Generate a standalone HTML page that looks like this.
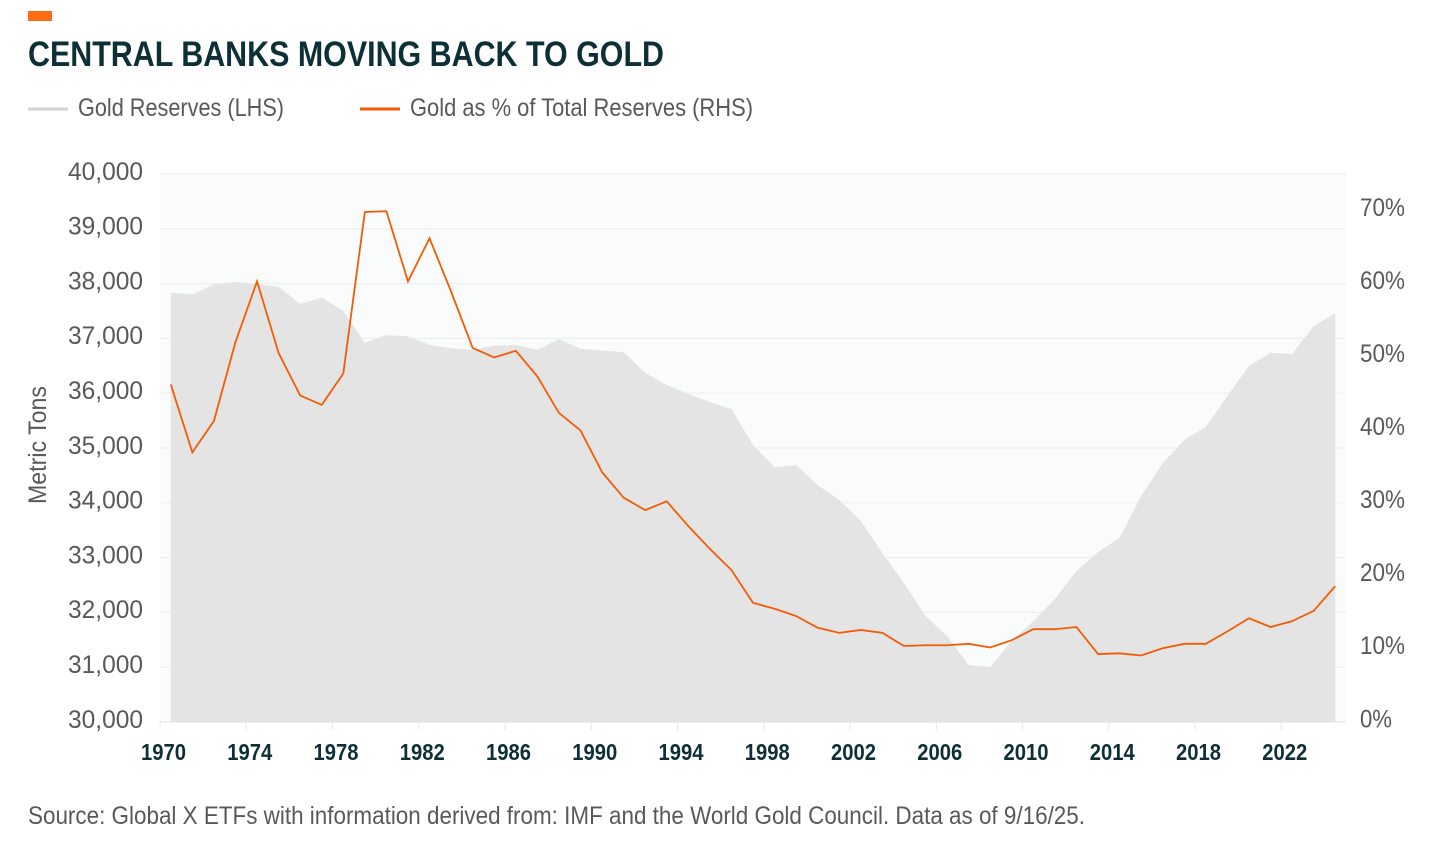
<!DOCTYPE html>
<html lang="en">
<head>
<meta charset="utf-8">
<title>Central Banks Moving Back to Gold</title>
<style>
html,body{margin:0;padding:0;background:#fff;width:1456px;height:866px;overflow:hidden}
svg{display:block}
text{font-family:"Liberation Sans",sans-serif}
</style>
</head>
<body>
<svg id="chart" xmlns="http://www.w3.org/2000/svg" width="1456" height="866" viewBox="0 0 1456 866">
  <rect x="0" y="0" width="1456" height="866" fill="#ffffff"/>
  <rect x="28" y="11" width="24" height="10" fill="#ff6a13"/>
  <text x="28" y="66" font-size="35" font-weight="700" fill="#0d2f36" textLength="636" lengthAdjust="spacingAndGlyphs">CENTRAL BANKS MOVING BACK TO GOLD</text>

  <g>
    <g>
      <rect x="28" y="107.5" width="40" height="3" fill="#d2d2d2"/>
      <text x="78" y="116" font-size="25" fill="#58595b" textLength="206" lengthAdjust="spacingAndGlyphs">Gold Reserves (LHS)</text>
    </g>
    <g>
      <rect x="360" y="107.5" width="40" height="3" fill="#f25c05"/>
      <text x="410" y="116" font-size="25" fill="#58595b" textLength="343" lengthAdjust="spacingAndGlyphs">Gold as % of Total Reserves (RHS)</text>
    </g>
  </g>

  <rect x="160" y="174" width="1186" height="548" fill="#fafbfb"/>
  <g id="grid"></g>
  <path id="area" fill="#e4e4e4" stroke="none"/>
  <g id="xticks"></g>
  <g id="yleft"></g>
  <g id="yright"></g>
  <path id="line" fill="none" stroke="#f25c05" stroke-width="1.8" stroke-linejoin="miter"/>

  <text transform="translate(46 445) rotate(-90)" text-anchor="middle" font-size="25" fill="#58595b" textLength="118" lengthAdjust="spacingAndGlyphs">Metric Tons</text>
  <text x="28" y="824" font-size="25" fill="#58595b" textLength="1057" lengthAdjust="spacingAndGlyphs">Source: Global X ETFs with information derived from: IMF and the World Gold Council. Data as of 9/16/25.</text>
</svg>

<script>
const years = [1970,1971,1972,1973,1974,1975,1976,1977,1978,1979,1980,1981,1982,1983,1984,1985,1986,1987,1988,1989,1990,1991,1992,1993,1994,1995,1996,1997,1998,1999,2000,2001,2002,2003,2004,2005,2006,2007,2008,2009,2010,2011,2012,2013,2014,2015,2016,2017,2018,2019,2020,2021,2022,2023,2024];
const goldReserves = [37832,37800,37985,38030,37990,37940,37630,37745,37505,36915,37060,37040,36880,36820,36790,36865,36880,36790,36990,36810,36780,36750,36370,36150,35985,35840,35710,35055,34650,34690,34325,34050,33670,33085,32535,31935,31570,31040,31000,31480,31840,32245,32755,33100,33360,34120,34725,35145,35385,35950,36500,36735,36715,37225,37460];
const goldPercent = [46.2,36.9,41.2,52.0,60.3,50.5,44.7,43.4,47.7,69.8,69.9,60.3,66.2,58.9,51.2,49.9,50.8,47.3,42.3,39.9,34.2,30.7,29.0,30.2,26.8,23.7,20.8,16.3,15.5,14.5,12.9,12.2,12.6,12.2,10.4,10.5,10.5,10.7,10.2,11.2,12.7,12.7,13.0,9.3,9.4,9.1,10.1,10.7,10.7,12.4,14.2,13.0,13.8,15.2,18.6];
const leftTicks = [30000,31000,32000,33000,34000,35000,36000,37000,38000,39000,40000];
const rightTicks = [0,10,20,30,40,50,60,70];
const xTickYears = [1970,1974,1978,1982,1986,1990,1994,1998,2002,2006,2010,2014,2018,2022];

const NS = 'http://www.w3.org/2000/svg';
const plotLeft = 160, plotRight = 1346, plotTop = 174, plotBottom = 722;
const band = (plotRight - plotLeft) / years.length;
const xEdge = function (year) { return plotLeft + (year - years[0]) * band; };
const xCenter = function (year) { return xEdge(year) + band / 2; };
const yLeft = function (v) { return plotBottom - (v - 30000) / 10000 * (plotBottom - plotTop); };
const yRight = function (v) { return plotBottom - v / 75 * (plotBottom - plotTop); };

function make(parent, tag, attrs, content) {
  const el = document.createElementNS(NS, tag);
  Object.keys(attrs).forEach(function (k) { el.setAttribute(k, attrs[k]); });
  if (content !== undefined) el.textContent = content;
  parent.appendChild(el);
  return el;
}

const grid = document.getElementById('grid');
const yleft = document.getElementById('yleft');
leftTicks.forEach(function (t) {
  const y = yLeft(t);
  const gl = make(grid, 'line', {x1: plotLeft, x2: plotRight, y1: y, y2: y, stroke: t === 30000 ? '#e6e6e6' : '#eeefef', 'stroke-width': 1.2});
  
  
  const lab = make(yleft, 'text', {x: 143, y: y + 5.8, 'text-anchor': 'end', 'font-size': 25, fill: '#58595b', textLength: 75, lengthAdjust: 'spacingAndGlyphs'}, t.toLocaleString('en-US'));
  
  
});

const yright = document.getElementById('yright');
rightTicks.forEach(function (t) {
  const lab = make(yright, 'text', {x: 1360, y: yRight(t) + 5.3, 'font-size': 25, fill: '#58595b', textLength: t === 0 ? 32 : 45, lengthAdjust: 'spacingAndGlyphs'}, t + '%');
  
  
});

const xticks = document.getElementById('xticks');
xTickYears.forEach(function (yr) {
  const x = xEdge(yr);
  const tick = make(xticks, 'line', {x1: x, x2: x, y1: plotBottom, y2: plotBottom + 8, stroke: '#e8e8e8', 'stroke-width': 1});
  
  
  const lab = make(xticks, 'text', {x: x + 3.5, y: 760, 'text-anchor': 'middle', 'font-size': 23, 'font-weight': 700, fill: '#0d2f36', textLength: 45, lengthAdjust: 'spacingAndGlyphs'}, String(yr));
  
  
});

let areaPath = 'M' + xCenter(years[0]).toFixed(2) + ' ' + plotBottom;
years.forEach(function (yr, i) {
  areaPath += ' L' + xCenter(yr).toFixed(2) + ' ' + yLeft(goldReserves[i]).toFixed(2);
});
areaPath += ' L' + xCenter(years[years.length - 1]).toFixed(2) + ' ' + plotBottom + ' Z';
document.getElementById('area').setAttribute('d', areaPath);

const linePath = years.map(function (yr, i) {
  return (i === 0 ? 'M' : 'L') + xCenter(yr).toFixed(2) + ' ' + yRight(goldPercent[i]).toFixed(2);
}).join(' ');
document.getElementById('line').setAttribute('d', linePath);
</script>
</body>
</html>
